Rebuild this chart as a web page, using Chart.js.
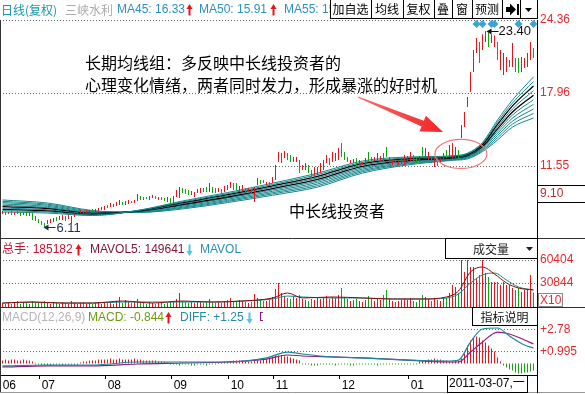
<!DOCTYPE html>
<html>
<head>
<meta charset="utf-8">
<script src="https://cdn.jsdelivr.net/npm/chart.js@4.4.0/dist/chart.umd.min.js"></script>
<style>
  html, body { margin: 0; padding: 0; background: #fff; }
  #wrap { position: relative; width: 585px; height: 394px; overflow: hidden; background: #fff; }
  #wrap canvas { position: absolute; left: 0; }
</style>
</head>
<body>
<div id="wrap">
  <canvas id="price-pane" width="585" height="239" style="top:0px"></canvas>
  <canvas id="volume-pane" width="585" height="70" style="top:238px"></canvas>
  <canvas id="macd-pane" width="585" height="87" style="top:307px"></canvas>
</div>
<script>
// ---- data (one bar per trading day) ----
const months = ['06', '07', '08', '09', '10', '11', '12', '01'];
const monthStart = [0, 13, 35, 57, 76, 91, 113, 136];

const high = [
  7.59,7.50,7.50,7.59,7.50,7.59,7.50,7.41,7.50,7.41,
  7.41,7.15,6.89,6.71,6.54,6.80,6.89,6.98,7.06,7.15,
  7.24,7.15,7.24,7.15,7.41,7.59,7.68,7.59,7.68,7.68,
  7.77,7.77,7.85,7.94,8.03,8.12,8.29,8.20,8.38,8.56,
  8.38,8.47,8.56,8.47,8.56,9.08,8.91,8.82,8.82,8.91,
  9.00,8.91,8.82,8.82,8.73,8.82,8.73,8.91,9.43,9.70,
  9.61,9.52,9.43,9.35,9.26,9.52,9.61,9.61,9.70,10.05,
  9.70,9.61,9.61,9.52,9.79,9.87,10.14,10.05,10.05,9.79,
  9.87,9.61,9.61,9.52,9.70,10.49,10.31,10.31,10.14,10.14,
  10.57,11.63,12.77,12.68,12.86,12.68,12.51,12.33,12.33,12.07,
  11.63,11.80,11.63,11.19,11.46,11.46,11.80,12.07,12.51,12.24,
  12.77,12.68,13.12,13.56,12.77,12.33,12.07,12.16,12.24,12.07,
  11.89,12.24,12.77,12.33,12.33,12.68,12.42,12.68,13.21,12.33,
  12.07,12.07,12.07,12.24,12.51,12.42,12.77,12.51,12.33,12.42,
  13.21,13.12,12.77,12.42,12.33,12.24,12.24,12.68,12.95,13.39,
  13.56,13.21,12.95,15.14,16.28,17.60,19.80,21.73,22.78,22.43,
  23.10,23.40,23.25,23.10,23.00,22.43,21.73,21.46,21.11,20.85,
  22.34,21.02,21.02,21.11,21.02,21.46,22.43,21.90
];
const low = [
  7.33,7.24,7.33,7.24,7.24,7.33,7.15,7.24,7.15,7.15,
  6.80,6.71,6.54,6.36,6.11,6.45,6.54,6.63,6.71,6.80,
  6.80,6.71,6.89,6.54,7.06,7.33,7.41,7.41,7.41,7.50,
  7.50,7.50,7.59,7.68,7.68,7.85,7.94,7.94,8.03,8.12,
  8.12,8.12,8.20,8.29,8.29,8.47,8.56,8.56,8.64,8.56,
  8.73,8.64,8.56,8.56,8.47,8.38,8.29,8.29,8.82,8.73,
  9.17,9.08,9.00,9.00,8.82,9.17,9.17,9.26,9.26,9.26,
  9.17,9.17,9.26,9.17,9.26,9.43,9.61,9.43,9.43,9.26,
  9.35,9.17,9.26,9.08,8.38,9.87,9.96,10.05,9.87,9.79,
  10.05,10.31,11.89,11.80,12.24,12.07,11.89,11.89,11.89,10.93,
  11.19,11.19,10.93,10.49,10.76,10.76,10.93,11.19,11.80,11.63,
  11.89,11.98,12.07,12.33,12.07,11.89,11.80,11.80,11.63,11.63,
  11.63,11.63,11.89,11.89,11.98,12.07,11.89,11.80,12.33,11.80,
  11.63,11.72,11.63,11.72,11.63,11.80,11.89,11.89,11.80,11.89,
  12.24,12.33,12.07,11.80,11.46,11.55,11.80,12.07,12.24,12.33,
  12.24,12.07,12.24,14.00,14.97,16.72,18.04,19.80,21.46,20.59,
  21.73,22.43,21.99,22.34,21.99,20.85,19.97,19.53,19.80,20.23,
  20.23,19.80,19.71,19.80,20.15,20.23,20.85,21.02
];
// 1 = closed up (red), 0 = closed down (green)
const rising = [
  1,0,1,0,1,0,0,1,0,1, 0,0,0,0,0,1,1,1,0,1, 1,0,1,1,1,1,1,0,1,1,
  0,1,1,1,1,0,1,1,1,1, 0,1,1,0,1,1,0,0,0,1, 1,0,1,0,0,1,0,1,1,1,
  0,0,0,1,1,1,1,0,0,1, 0,0,1,0,1,1,1,0,0,1, 1,0,1,0,1,1,0,0,1,0,
  1,1,1,1,1,0,0,1,1,0, 1,1,0,0,1,1,1,1,1,0, 1,1,1,0,0,0,1,1,0,1,
  1,1,0,0,1,1,1,0,0,1, 1,0,1,1,1,1,1,0,0,1, 0,1,1,0,1,0,1,1,0,1,
  1,1,0,1,1,1,1,1,1,0, 1,1,0,1,1,0,1,1,1,1, 1,0,0,1,1,1,1,0
];

// long moving-average group, sampled at these bar indices
const maIdx = [0, 15, 30, 45, 60, 75, 90, 105, 120, 135, 150, 155, 160, 165, 170, 177];
const ma45 = [7.50,7.41,7.19,7.64,8.47,9.21,10.03,10.91,11.98,12.33,12.44,12.67,13.61,15.58,17.34,19.36];
const ma50 = [7.62,7.51,7.24,7.62,8.39,9.11,9.91,10.78,11.86,12.25,12.40,12.61,13.52,15.39,17.08,18.96];
const ma55 = [7.73,7.60,7.29,7.60,8.32,9.02,9.80,10.64,11.75,12.18,12.35,12.56,13.43,15.19,16.82,18.57];
const ma60 = [7.85,7.70,7.34,7.58,8.24,8.92,9.68,10.50,11.63,12.10,12.31,12.50,13.34,14.99,16.55,18.16];
const ma65 = [7.97,7.80,7.39,7.56,8.16,8.82,9.56,10.37,11.51,12.02,12.26,12.45,13.25,14.80,16.28,17.76];
const ma70 = [8.09,7.90,7.43,7.54,8.08,8.72,9.44,10.23,11.39,11.94,12.22,12.39,13.17,14.60,16.02,17.36];
const ma75 = [8.21,8.00,7.48,7.52,8.00,8.62,9.32,10.10,11.27,11.86,12.17,12.34,13.08,14.41,15.75,16.96];
const ma80 = [8.33,8.10,7.53,7.50,7.92,8.52,9.20,9.96,11.15,11.78,12.13,12.28,12.99,14.21,15.48,16.55];
const ma85 = [8.44,8.19,7.58,7.48,7.85,8.43,9.09,9.82,11.04,11.71,12.08,12.23,12.90,14.01,15.22,16.16];
const ma90 = [8.56,8.29,7.63,7.46,7.77,8.33,8.97,9.69,10.92,11.63,12.04,12.17,12.81,13.82,14.96,15.76];

const priceTicks = [24.36, 17.96, 11.55, 9.10];
const priceGrid = [24.36, 17.96, 11.55];

// volume (x10 units as on the axis)
const volume = [
  5100,3900,6400,3900,5100,7700,3900,5100,6400,3900,
  7700,6400,5100,6400,7700,5100,3900,6400,5100,3900,
  6400,5100,3900,7700,5100,3900,5100,6400,3900,5100,
  3900,5100,6400,3900,5100,6400,5100,3900,7700,12900,
  5100,9000,6400,5100,7700,10300,6400,5100,3900,6400,
  5100,3900,5100,6400,3900,5100,6400,7700,10300,18000,
  7700,6400,5100,6400,5100,7700,6400,5100,6400,10300,
  6400,5100,6400,5100,7700,9000,11600,7700,6400,9000,
  7700,6400,5100,6400,16700,11600,9000,7700,7700,9000,
  12900,23100,30900,18000,14100,11600,10300,12900,11600,15400,
  10300,9000,7700,10300,9000,11600,10300,11600,14100,10300,
  12900,11600,15400,24400,12900,10300,7700,9000,10300,7700,
  6400,9000,14100,10300,7700,11600,9000,15400,21900,10300,
  7700,6400,7700,9000,10300,9000,11600,7700,6400,9000,
  15400,12900,10300,7700,11600,9000,7700,12900,11600,18000,
  28300,25700,18000,60400,45000,60400,51400,51400,37300,41200,
  60400,43700,38600,32200,32200,32200,28300,32200,28300,28300,
  24400,21900,24400,19300,21900,21900,41200,18500
];
const volIdx = [0,10,20,30,40,50,60,70,80,90,95,100,110,120,130,140,148,152,156,160,164,168,172,177];
const mavol5 = [5100,6400,5100,5100,7700,5100,7700,6400,7700,11600,18000,11600,12900,11600,10300,10300,12900,20600,45000,51400,42400,30900,24400,21900];
const mavol = [5100,6400,5100,5100,6400,6400,6400,6400,7700,10300,14100,12900,11600,11600,10300,10300,11600,16700,30900,41200,43700,34700,25700,21900];
const volTicks = [60404, 30844];

// MACD(12,26,9)
const macdHist = [
  0.24,0.32,0.24,0.32,0.32,0.24,0.24,0.32,0.24,0.24,0.16,
  -0.08,-0.08,-0.16,-0.16,-0.16,-0.16,-0.08,-0.08,-0.08,-0.16,-0.08,-0.08,-0.08,-0.08,-0.08,
  0.08,0.16,0.16,0.24,0.24,0.24,0.32,0.32,0.32,0.32,
  0.41,0.32,0.32,0.41,0.32,0.32,0.32,0.32,0.41,0.32,
  0.32,0.24,0.24,0.24,0.24,0.24,0.16,0.16,0.16,0.08,
  -0.08,-0.08,-0.08,-0.16,-0.08,-0.08,-0.08,-0.16,
  -0.16,-0.08,-0.08,-0.08,-0.16,-0.08,-0.08,-0.08,
  0.08,0.08,0.16,0.16,0.16,0.24,0.24,
  0.24,0.24,0.16,0.16,0.16,0.24,0.24,
  0.24,0.32,0.41,0.49,0.57,0.65,0.65,
  0.65,0.57,0.57,0.49,0.41,0.32,0.24,
  -0.08,-0.08,-0.08,-0.16,-0.16,-0.16,
  -0.08,-0.08,-0.08,-0.08,-0.08,-0.16,
  -0.08,-0.08,-0.08,-0.08,-0.16,-0.16,
  -0.08,-0.08,-0.08,-0.08,-0.08,-0.08,
  -0.08,-0.16,-0.08,-0.08,-0.08,-0.08,
  -0.08,-0.08,-0.08,-0.08,-0.08,-0.08,
  -0.08,-0.08,-0.08,
  0.16,0.24,0.24,0.32,0.32,0.41,0.32,0.32,0.24,0.24,0.16,0.16,0.24,0.24,
  0.41,0.81,1.46,1.87,2.11,2.19,2.11,1.87,1.70,1.46,1.22,0.97,0.49,0.16,
  -0.16,-0.32,-0.49,-0.57,-0.73,-0.81,-0.81,-0.73,-0.73,-0.65,-0.57
];
const macdIdx = [0,15,30,45,60,75,88,95,100,110,120,135,148,152,156,160,165,169,174,177];
const diffLine = [-0.20,-0.12,-0.12,0.12,0.12,0.12,0.45,0.93,0.77,0.53,0.45,0.28,0.20,0.28,1.74,2.80,2.88,2.23,1.50,1.26];
const deaLine = [-0.28,-0.20,-0.20,-0.04,0.04,0.12,0.36,0.69,0.61,0.53,0.45,0.28,0.12,0.12,0.93,1.74,2.55,2.39,1.91,1.58];
const macdTicks = [2.78, 0.995];

const markerIdx = [158, 160, 163, 164, 172, 177];

// ---- styling ----
const RED = '#e8141c';
const GREEN = '#17a117';
const TEAL = '#16878c';
const LABEL_RED = '#e8282c';
const LATIN = '"Liberation Sans", Arial, "Noto Sans CJK SC"';
const CJK = '"Noto Sans CJK SC", "Liberation Sans"';
const X_MIN = -5 / 6;
const X_MAX = 179 - 5 / 6;

function text(ctx, s, x, y, color, font, align) {
  ctx.font = font;
  ctx.fillStyle = color;
  ctx.textAlign = align || 'left';
  ctx.textBaseline = 'middle';
  ctx.fillText(s, x, y);
}

function hline(ctx, x0, x1, y) {
  ctx.beginPath(); ctx.moveTo(x0, y); ctx.lineTo(x1, y); ctx.stroke();
}

function vline(ctx, x, y0, y1) {
  ctx.beginPath(); ctx.moveTo(x, y0); ctx.lineTo(x, y1); ctx.stroke();
}

function dotted(ctx, x0, x1, y) {
  ctx.save();
  ctx.strokeStyle = '#666';
  ctx.lineWidth = 1;
  ctx.setLineDash([1, 2]);
  hline(ctx, x0, x1, y);
  ctx.restore();
}

// small solid arrow shown next to the header values
function trendArrow(ctx, x, y, up, color) {
  ctx.fillStyle = color;
  ctx.beginPath();
  if (up) {
    ctx.moveTo(x + 2.5, y - 6); ctx.lineTo(x + 5.5, y - 1); ctx.lineTo(x - 0.5, y - 1);
  } else {
    ctx.moveTo(x + 2.5, y + 6); ctx.lineTo(x + 5.5, y + 1); ctx.lineTo(x - 0.5, y + 1);
  }
  ctx.closePath();
  ctx.fill();
  ctx.fillRect(x + 1.5, up ? y - 1.5 : y - 5.5, 2, 7);
}

// "<-" pointer at a price extreme
function pointer(ctx, x, y, len, color) {
  ctx.strokeStyle = color;
  ctx.fillStyle = color;
  ctx.lineWidth = 1;
  hline(ctx, x + 3, x + len, y);
  ctx.beginPath();
  ctx.moveTo(x, y); ctx.lineTo(x + 5, y - 3); ctx.lineTo(x + 5, y + 3);
  ctx.closePath();
  ctx.fill();
}

function box(ctx, x0, y0, x1, y1, stroke) {
  ctx.fillStyle = '#fff';
  ctx.fillRect(x0, y0, x1 - x0, y1 - y0);
  ctx.strokeStyle = stroke || '#000';
  ctx.lineWidth = 1;
  ctx.strokeRect(x0 + 0.5, y0 + 0.5, x1 - x0 - 1, y1 - y0 - 1);
}

function noPad(s) {
  s.paddingTop = 0; s.paddingBottom = 0; s.paddingLeft = 0; s.paddingRight = 0;
}

function rightAxis(min, max, ticks, fmt, color) {
  return {
    type: 'linear',
    position: 'right',
    min: min,
    max: max,
    bounds: 'data',
    afterBuildTicks: s => { s.ticks = ticks.map(v => ({ value: v })); },
    afterFit: s => { s.width = 48; noPad(s); },
    grid: { display: false, drawTicks: false },
    border: { display: true, color: '#000', width: 1 },
    ticks: {
      padding: 3,
      autoSkip: false,
      color: color,
      font: { family: LATIN, size: 12 },
      callback: fmt
    }
  };
}

const hiddenX = {
  type: 'linear', min: X_MIN, max: X_MAX, offset: false, bounds: 'data', display: false,
  grid: { offset: false }
};

function baseOptions(padding, scales) {
  return {
    responsive: false,
    animation: false,
    devicePixelRatio: 1,
    events: [],
    layout: { padding: padding, autoPadding: false },
    plugins: { legend: { display: false }, tooltip: { enabled: false } },
    scales: scales
  };
}

function lineSet(idx, values, color, width, order) {
  return {
    type: 'line',
    data: idx.map((x, j) => ({ x: x, y: values[j] })),
    borderColor: color,
    borderWidth: width,
    pointRadius: 0,
    cubicInterpolationMode: 'monotone',
    order: order
  };
}

// ---- price pane ----
const maGroup = [ma45, ma50, ma55, ma60, ma65, ma70, ma75, ma80, ma85, ma90];
const maColors = [TEAL, TEAL, '#000', TEAL, '#000', TEAL, TEAL, TEAL, TEAL, TEAL];

const pricePaneDecor = {
  id: 'pricePaneDecor',
  beforeDatasetsDraw(chart) {
    const { ctx, chartArea: a, scales: { y } } = chart;
    priceGrid.forEach(v => dotted(ctx, a.left, a.right, Math.round(y.getPixelForValue(v)) + 0.5));
  },
  afterDraw(chart) {
    const { ctx, chartArea: a, scales: { x, y } } = chart;
    ctx.save();

    // frame
    ctx.strokeStyle = '#333';
    ctx.lineWidth = 1;
    vline(ctx, 0.5, a.top, 239);
    ctx.strokeStyle = '#000';
    hline(ctx, a.right, 585, 185.5);
    hline(ctx, a.right, 585, 202.5);

    // header line
    text(ctx, '日线(复权)', 1, 10, '#1896a8', '12px ' + CJK);
    text(ctx, '三峡水利', 65, 10, '#ababab', '12px ' + CJK);
    text(ctx, 'MA45: 16.33', 117, 10, '#2f8fc0', '12px ' + LATIN);
    trendArrow(ctx, 187, 10, true, '#e8141c');
    text(ctx, 'MA50: 15.91', 199, 10, '#2f8fc0', '12px ' + LATIN);
    trendArrow(ctx, 271, 10, true, '#e8141c');
    text(ctx, 'MA55: 15.50', 284, 10, '#2f8fc0', '12px ' + LATIN);

    // toolbar buttons
    box(ctx, 330, -1, 538, 19);
    [371, 403, 434, 452, 472, 502, 520].forEach(sx => vline(ctx, sx + 0.5, 0, 18));
    [['加自选', 350.5], ['均线', 387], ['复权', 418.5], ['叠', 443], ['窗', 462], ['预测', 487]]
      .forEach(b => text(ctx, b[0], b[1], 9.5, '#000', '12px ' + CJK, 'center'));
    ctx.fillStyle = '#000';
    ctx.fillRect(506, 7, 5, 5);
    ctx.beginPath(); ctx.moveTo(510, 3.5); ctx.lineTo(516, 9.5); ctx.lineTo(510, 15.5); ctx.closePath(); ctx.fill();
    ctx.fillRect(517, 4, 2, 11);
    ctx.beginPath(); ctx.moveTo(525, 8); ctx.lineTo(532, 8); ctx.lineTo(528.5, 12); ctx.closePath(); ctx.fill();

    // commentary
    text(ctx, '长期均线组：多反映中长线投资者的', 85, 63, '#000', '16px ' + CJK);
    text(ctx, '心理变化情绪，两者同时发力，形成暴涨的好时机', 85, 85, '#000', '16px ' + CJK);
    text(ctx, '中长线投资者', 289, 211, '#000', '16px ' + CJK);

    // big red arrow towards the breakout
    const x0 = 358, y0 = 97, x1 = 443, y1 = 132;
    const len = Math.hypot(x1 - x0, y1 - y0);
    const ux = (x1 - x0) / len, uy = (y1 - y0) / len, nx = -uy, ny = ux;
    const bx = x1 - ux * 22, by = y1 - uy * 22;
    const grad = ctx.createLinearGradient(x0, y0, x1, y1);
    grad.addColorStop(0, '#ff6a6a');
    grad.addColorStop(1, '#f02626');
    ctx.fillStyle = grad;
    ctx.beginPath();
    ctx.moveTo(x0 + nx * 0.6, y0 + ny * 0.6);
    ctx.lineTo(bx + nx * 3, by + ny * 3);
    ctx.lineTo(bx + nx * 8.5, by + ny * 8.5);
    ctx.lineTo(x1, y1);
    ctx.lineTo(bx - nx * 8.5, by - ny * 8.5);
    ctx.lineTo(bx - nx * 3, by - ny * 3);
    ctx.lineTo(x0 - nx * 0.6, y0 - ny * 0.6);
    ctx.closePath();
    ctx.fill();

    // circle round the point where the averages turn up
    ctx.strokeStyle = '#f07878';
    ctx.lineWidth = 1.2;
    ctx.beginPath();
    ctx.ellipse(x.getPixelForValue(152.8), y.getPixelForValue(12.6), 26, 14.5, 0, 0, Math.PI * 2);
    ctx.stroke();

    // high / low pointers
    const hiIdx = high.indexOf(Math.max(...high));
    const loIdx = low.indexOf(Math.min(...low));
    const hx = x.getPixelForValue(hiIdx) + 1, hy = Math.round(y.getPixelForValue(high[hiIdx])) + 0.5;
    pointer(ctx, hx, hy, 12, '#111');
    text(ctx, high[hiIdx].toFixed(2), hx + 12, hy, '#111', '13px ' + LATIN);
    const lx = x.getPixelForValue(loIdx) - 1, ly = Math.round(y.getPixelForValue(low[loIdx])) - 0.5;
    pointer(ctx, lx, ly, 12, '#1c2c5c');
    text(ctx, low[loIdx].toFixed(2), lx + 13, ly + 1, '#1c2c5c', '13px ' + LATIN);

    // event markers
    ctx.fillStyle = '#3ba3d6';
    markerIdx.forEach(i => {
      const mx = x.getPixelForValue(i);
      ctx.beginPath();
      ctx.moveTo(mx, 20); ctx.lineTo(mx + 4, 24); ctx.lineTo(mx, 28); ctx.lineTo(mx - 4, 24);
      ctx.closePath();
      ctx.fill();
    });
    ctx.restore();
  }
};

new Chart(document.getElementById('price-pane'), {
  type: 'bar',
  data: {
    datasets: [{
      type: 'bar',
      data: high.map((h, i) => ({ x: i, y: [low[i], h] })),
      backgroundColor: rising.map(r => r ? RED : GREEN),
      barThickness: 1,
      inflateAmount: 0,
      borderWidth: 0,
      order: 0
    }].concat(maGroup.map((m, k) => lineSet(maIdx, m, maColors[k], k === 2 || k === 4 ? 1.3 : 1, 1)))
  },
  options: baseOptions({ top: 20, bottom: 1, left: 0, right: 0 }, {
    x: hiddenX,
    y: rightAxis(5.22, 24.36, priceTicks, v => v.toFixed(2),
      c => (c.tick && c.tick.value === 9.1) ? '#b0302c' : LABEL_RED)
  }),
  plugins: [pricePaneDecor]
});

// ---- volume pane ----
const volumePaneDecor = {
  id: 'volumePaneDecor',
  beforeDatasetsDraw(chart) {
    const { ctx, chartArea: a, scales: { y } } = chart;
    volTicks.forEach(v => dotted(ctx, a.left, a.right, Math.round(y.getPixelForValue(v)) + 0.5));
  },
  afterDraw(chart) {
    const { ctx, chartArea: a } = chart;
    ctx.save();
    ctx.strokeStyle = '#333';
    ctx.lineWidth = 1;
    hline(ctx, 0, 585, 0.5);
    vline(ctx, 0.5, 0, 70);

    text(ctx, '总手: 185182', 2, 12, '#c81432', '12px ' + LATIN);
    trendArrow(ctx, 76, 12, true, '#e8141c');
    text(ctx, 'MAVOL5: 149641', 90, 12, '#7d1533', '12px ' + LATIN);
    trendArrow(ctx, 187, 12, false, '#4fc4ea');
    text(ctx, 'MAVOL', 200, 12, '#2c8fb4', '12px ' + LATIN);

    box(ctx, 445, 0, a.right + 1, 21);
    text(ctx, '成交量', 473, 11.5, '#222', '12px ' + CJK);
    ctx.fillStyle = '#222';
    ctx.beginPath(); ctx.moveTo(526, 9); ctx.lineTo(533, 9); ctx.lineTo(529.5, 13); ctx.closePath(); ctx.fill();

    box(ctx, 538, 55, 563, 69, '#888');
    text(ctx, 'X10', 540, 62.5, LABEL_RED, '12px ' + LATIN);
    ctx.restore();
  }
};

new Chart(document.getElementById('volume-pane'), {
  type: 'bar',
  data: {
    datasets: [{
      type: 'bar',
      data: volume.map((v, i) => ({ x: i, y: v })),
      backgroundColor: rising.map(r => r ? RED : GREEN),
      barThickness: 1,
      inflateAmount: 0,
      borderWidth: 0,
      order: 1
    },
    lineSet(volIdx, mavol5, '#8b0a0a', 1, 0),
    lineSet(volIdx, mavol, TEAL, 1, 0)]
  },
  options: baseOptions({ top: 0, bottom: 1, left: 0, right: 0 }, {
    x: hiddenX,
    y: rightAxis(0, 88734, volTicks, v => String(v), LABEL_RED)
  }),
  plugins: [volumePaneDecor]
});

// ---- MACD pane ----
const macdPaneDecor = {
  id: 'macdPaneDecor',
  beforeDatasetsDraw(chart) {
    const { ctx, chartArea: a, scales: { y } } = chart;
    macdTicks.forEach(v => dotted(ctx, a.left, a.right, Math.round(y.getPixelForValue(v)) + 0.5));
  },
  afterDraw(chart) {
    const { ctx, chartArea: a } = chart;
    ctx.save();
    ctx.strokeStyle = '#333';
    ctx.lineWidth = 1;
    hline(ctx, 0, 585, 0.5);
    vline(ctx, 0.5, 0, 86);
    ctx.strokeStyle = '#999';
    hline(ctx, 0, 585, 85.5);
    ctx.strokeStyle = '#000';
    vline(ctx, a.right + 0.5, a.bottom, 86);

    text(ctx, 'MACD(12,26,9)', 2, 11, '#b5b5b5', '12px ' + LATIN);
    text(ctx, 'MACD: -0.844', 88, 11, '#6f9a12', '12px ' + LATIN);
    trendArrow(ctx, 166, 11, true, '#e8141c');
    text(ctx, 'DIFF: +1.25', 180, 11, '#258c9e', '12px ' + LATIN);
    trendArrow(ctx, 247, 11, false, '#4fc4ea');
    ctx.save();
    ctx.beginPath(); ctx.rect(255, 0, 8, 20); ctx.clip();
    text(ctx, 'DEA: +1.67', 259, 11, '#8c1c8c', '12px ' + LATIN);
    ctx.restore();

    box(ctx, 472, 0, a.right + 1, 19);
    text(ctx, '指标说明', 504.5, 10, '#111', '12px ' + CJK, 'center');

    box(ctx, 447, a.bottom, 528, 86);
    text(ctx, '2011-03-07,一', 449, a.bottom + 9, '#000', '12px ' + LATIN);
    ctx.restore();
  }
};

new Chart(document.getElementById('macd-pane'), {
  type: 'bar',
  data: {
    datasets: [{
      type: 'bar',
      data: macdHist.map((v, i) => ({ x: i, y: v })),
      backgroundColor: macdHist.map(v => v >= 0 ? RED : GREEN),
      barThickness: 1,
      inflateAmount: 0,
      borderWidth: 0,
      order: 1
    },
    lineSet(macdIdx, diffLine, '#1a8a96', 1.2, 0),
    lineSet(macdIdx, deaLine, '#8c1c8c', 1.2, 0)]
  },
  options: baseOptions({ top: 0, bottom: 0, left: 0, right: 0 }, {
    x: {
      type: 'linear', min: X_MIN, max: X_MAX, offset: false, bounds: 'data', position: 'bottom',
      afterBuildTicks: s => { s.ticks = monthStart.map(m => ({ value: m - 0.6 })); },
      afterFit: s => { s.height = 19; noPad(s); },
      grid: { display: true, drawOnChartArea: false, drawTicks: true, tickLength: 4, tickColor: '#000', tickWidth: 1, offset: false },
      border: { display: true, color: '#000', width: 1 },
      ticks: {
        autoSkip: false, maxRotation: 0, minRotation: 0, align: 'start', labelOffset: 2, padding: -1,
        color: '#000', font: { family: LATIN, size: 12 },
        callback: (v, i) => months[i]
      }
    },
    y: rightAxis(-0.933, 4.582, macdTicks, v => '+' + String(v), LABEL_RED)
  }),
  plugins: [macdPaneDecor]
});
</script>
</body>
</html>
